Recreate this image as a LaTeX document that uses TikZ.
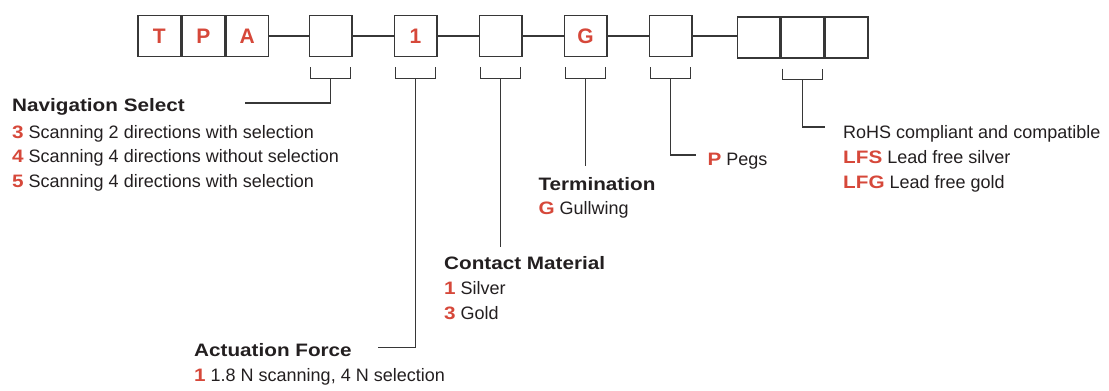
\documentclass[tikz,border=0pt]{standalone}
\usepackage{fontspec}
\setmainfont{Liberation Sans}
\newfontfamily\widefont{Liberation Sans}[FakeStretch=1.15]
\usetikzlibrary{positioning}
\definecolor{codered}{RGB}{214,72,58}
\definecolor{inkgray}{RGB}{35,31,32}
\definecolor{linegray}{RGB}{55,55,55}
\newcommand{\code}[1]{{\widefont\bfseries\color{codered}#1}}
\tikzset{
  cell/.style={draw=linegray, line width=1.3pt, minimum width=42.7pt, minimum height=41pt, inner sep=0pt,
    text=codered, font=\fontsize{21}{21}\selectfont\bfseries},
  txt/.style={anchor=base west, inner sep=0pt, text=inkgray, font=\fontsize{18}{20}\selectfont},
  head/.style={txt, font=\fontsize{18}{20}\selectfont\widefont\bfseries},
  wire/.style={draw=linegray, line width=1.2pt}
}
\begin{document}
\begin{tikzpicture}[x=1pt,y=-1pt]
\useasboundingbox (0,0) rectangle (1109,391);

% part number boxes
\node[cell] (t) at (159.3,36) {T};
\node[cell,right=0pt of t] (p) {P};
\node[cell,right=0pt of p] (a) {A};
\node[cell] (nav) at (330.5,36) {};
\node[cell] (force) at (415.5,36) {1};
\node[cell] (mat) at (500.5,36) {};
\node[cell] (term) at (585.5,36) {G};
\node[cell] (peg) at (670.5,36) {};
\node[cell] (rohsa) at (758.5,37.5) {};
\node[cell,right=0pt of rohsa] (rohsb) {};
\node[cell,right=0pt of rohsb] (rohsc) {};

\draw[wire] (a) -- (nav);
\draw[wire] (nav) -- (force);
\draw[wire] (force) -- (mat);
\draw[wire] (mat) -- (term);
\draw[wire] (term) -- (peg);
\draw[wire] (peg.east) -- (peg.east -| rohsa.west);

% brackets under the boxes
\foreach \b in {nav,force,mat,term,peg,rohsb} {
  \draw[wire] ([xshift=2pt,yshift=-10pt]\b.south west) -- ++(0,11) -| ([xshift=-2pt,yshift=-10pt]\b.south east);
  \coordinate (\b br) at ([yshift=-21pt]\b.south);
}

% leader ends
\coordinate (navend) at (245,103);
\coordinate (forceend) at (378,347.3);
\coordinate (matend) at (500.5,247);
\coordinate (termend) at (585.5,166);
\coordinate (pegend) at (696,155);
\coordinate (rohsend) at (825,127);

\draw[wire] (navbr) |- (navend);
\draw[wire] (forcebr) |- (forceend);
\draw[wire] (matbr) -- (matend);
\draw[wire] (termbr) -- (termend);
\draw[wire] (pegbr) |- (pegend);
\draw[wire] (rohsbbr) |- (rohsend);

% legends
\node[head] (navhead) at (12,111.7) {Navigation Select};
\node[txt] (nav3) at (12,138.3) {\code{3} Scanning 2 directions with selection};
\node[txt] (nav4) at (12,162.7) {\code{4} Scanning 4 directions without selection};
\node[txt] (nav5) at (12,187.3) {\code{5} Scanning 4 directions with selection};

\node[head] (forcehead) at (194,356.7) {Actuation Force};
\node[txt] (force1) at (194,381.7) {\code{1} 1.8 N scanning, 4 N selection};

\node[head] (mathead) at (444,269.3) {Contact Material};
\node[txt] (mat1) at (444,294.3) {\code{1} Silver};
\node[txt] (mat3) at (444,319.3) {\code{3} Gold};

\node[head] (termhead) at (538.3,190) {Termination};
\node[txt] (termg) at (538.3,214) {\code{G} Gullwing};

\node[txt] (pegp) at (707.3,165) {\code{P} Pegs};

\node[txt] (rohshead) at (843,138.3) {RoHS compliant and compatible};
\node[txt] (rohslfs) at (843,163.3) {\code{LFS} Lead free silver};
\node[txt] (rohslfg) at (843,188.3) {\code{LFG} Lead free gold};
\end{tikzpicture}
\end{document}
